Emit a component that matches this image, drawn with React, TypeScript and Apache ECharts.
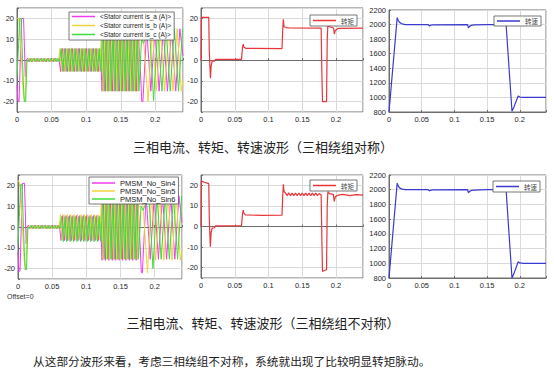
import React, { useEffect, useRef } from "react";
import * as echarts from "echarts";

// ---------- three-phase currents: extremum times (ms) ----------
const tA = [
  0, 1.5, 3, 6.5, 9.5, 12, 13.5,
  15.5, 18, 20.5, 23, 25.5, 28, 30.5, 33, 35.5, 38, 40.5, 43, 45.5, 48, 50.5, 53, 55.5, 58, 60.5,
  63, 65.5, 68, 70.5, 73, 75.5, 78, 80.5, 83, 85.5, 88, 90.5, 93, 95.5, 98, 100.5, 103, 105.5, 108, 110.5, 113, 115.5, 118, 120.5,
  123, 125.5, 128, 130.5, 133, 135.5, 138, 140.5, 143, 145.5, 148, 150.5, 153, 155.5, 158, 160.5, 163, 165.5, 168, 170.5, 173, 175.5,
  180.5, 182, 187.5, 193.5, 199.5, 205.5, 211.5, 217.5, 223.5, 229.5, 235.5, 240,
];
const tB = [
  0, 2.5, 6, 9, 11.5, 13.5,
  17.2, 19.7, 22.2, 24.7, 27.2, 29.7, 32.2, 34.7, 37.2, 39.7, 42.2, 44.7, 47.2, 49.7, 52.2, 54.7, 57.2, 59.7,
  62.2, 64.7, 67.2, 69.7, 72.2, 74.7, 77.2, 79.7, 82.2, 84.7, 87.2, 89.7, 92.2, 94.7, 97.2, 99.7, 102.2, 104.7, 107.2, 109.7, 112.2, 114.7, 117.2, 119.7,
  122.2, 124.7, 127.2, 129.7, 132.2, 134.7, 137.2, 139.7, 142.2, 144.7, 147.2, 149.7, 152.2, 154.7, 157.2, 159.7, 162.2, 164.7, 167.2, 169.7, 172.2, 174.7, 177.2,
  183, 189.5, 195.5, 201.5, 207.5, 213.5, 219.5, 225.5, 231.5, 237.5, 240,
];
const tC = [
  0, 2, 4, 6, 9, 10.5, 12.5, 14.5,
  16.3, 18.8, 21.3, 23.8, 26.3, 28.8, 31.3, 33.8, 36.3, 38.8, 41.3, 43.8, 46.3, 48.8, 51.3, 53.8, 56.3, 58.8, 61.3,
  63.8, 66.3, 68.8, 71.3, 73.8, 76.3, 78.8, 81.3, 83.8, 86.3, 88.8, 91.3, 93.8, 96.3, 98.8, 101.3, 103.8, 106.3, 108.8, 111.3, 113.8, 116.3, 118.8, 121.3,
  123.8, 126.3, 128.8, 131.3, 133.8, 136.3, 138.8, 141.3, 143.8, 146.3, 148.8, 151.3, 153.8, 156.3, 158.8, 161.3, 163.8, 166.3, 168.8, 171.3, 173.8, 176.3,
  180, 183, 191.5, 197.5, 203.5, 209.5, 215.5, 221.5, 227.5, 233.5, 239.5, 240,
];

// symmetric winding currents (A)
const iaSym = [
  -12, -20, -20, 20, 20, -8, 0,
  0.8, -0.8, 0.8, -0.8, 0.8, -0.8, 0.8, -0.8, 0.8, -0.8, 0.8, -0.8, 0.8, -0.8, 0.8, -0.8, 0.8, -0.8, 0.8,
  -5.5, 5.5, -5.5, 5.5, -5.5, 5.5, -5.5, 5.5, -5.5, 5.5, -5.5, 5.5, -5.5, 5.5, -5.5, 5.5, -5.5, 5.5, -5.5, 5.5, -5.5, 5.5, -5.5, 5.5,
  -15, 15, -15, 15, -15, 15, -15, 15, -15, 15, -15, 15, -15, 15, -15, 15, -15, 15, -15, 15, -15, 15,
  -20, -20, 15, -15, 15, -15, 15, -15, 15, -15, 15, 2,
];
const ibSym = [
  20, 20, 3, -16, -20, -1,
  0.8, -0.8, 0.8, -0.8, 0.8, -0.8, 0.8, -0.8, 0.8, -0.8, 0.8, -0.8, 0.8, -0.8, 0.8, -0.8, 0.8, -0.8,
  5.5, -5.5, 5.5, -5.5, 5.5, -5.5, 5.5, -5.5, 5.5, -5.5, 5.5, -5.5, 5.5, -5.5, 5.5, -5.5, 5.5, -5.5, 5.5, -5.5, 5.5, -5.5, 5.5, -5.5,
  15, -15, 15, -15, 15, -15, 15, -15, 15, -15, 15, -15, 15, -15, 15, -15, 15, -15, 15, -15, 15, -15, 15,
  10, -20, 15, -15, 15, -15, 15, -15, 15, -15, -10,
];
const icSym = [
  -8, 5, 20, 20, -10, -20, -20, 0,
  -0.8, 0.8, -0.8, 0.8, -0.8, 0.8, -0.8, 0.8, -0.8, 0.8, -0.8, 0.8, -0.8, 0.8, -0.8, 0.8, -0.8, 0.8, -0.8,
  5.5, -5.5, 5.5, -5.5, 5.5, -5.5, 5.5, -5.5, 5.5, -5.5, 5.5, -5.5, 5.5, -5.5, 5.5, -5.5, 5.5, -5.5, 5.5, -5.5, 5.5, -5.5, 5.5, -5.5,
  15, -15, 15, -15, 15, -15, 15, -15, 15, -15, 15, -15, 15, -15, 15, -15, 15, -15, 15, -15, 15, -15,
  10, 8, 15, -19.5, 15, -15, 15, -15, 15, -15, 15, 14.8,
];

// asymmetric winding currents (A)
const iaAsym = [
  -12, -21.5, -21, 21, 21, -8, 0,
  0.9, -0.7, 0.9, -0.7, 0.9, -0.7, 0.9, -0.7, 0.9, -0.7, 0.9, -0.7, 0.9, -0.7, 0.9, -0.7, 0.9, -0.7, 0.9,
  -6.5, 5.5, -6.5, 5.5, -6.5, 5.5, -6.5, 5.5, -6.5, 5.5, -6.5, 5.5, -6.5, 5.5, -6.5, 5.5, -6.5, 5.5, -6.5, 5.5, -6.5, 5.5, -6.5, 5.5,
  -16, 14, -16, 14, -16, 14, -16, 14, -16, 14, -16, 14, -16, 14, -16, 14, -16, 14, -16, 14, -16, 14,
  -22, -22, 15, -15.5, 15, -15.5, 15, -15.5, 15, -15.5, 15, 2,
];
const ibAsym = [
  22.5, 21, 3, -16, -20.5, -1,
  0.7, -0.9, 0.7, -0.9, 0.7, -0.9, 0.7, -0.9, 0.7, -0.9, 0.7, -0.9, 0.7, -0.9, 0.7, -0.9, 0.7, -0.9,
  6, -6, 6, -6, 6, -6, 6, -6, 6, -6, 6, -6, 6, -6, 6, -6, 6, -6, 6, -6, 6, -6, 6, -6,
  15, -15.5, 15, -15.5, 15, -15.5, 15, -15.5, 15, -15.5, 15, -15.5, 15, -15.5, 15, -15.5, 15, -15.5, 15, -15.5, 15, -15.5, 15,
  10, -22, 15.5, -16, 15.5, -16, 15.5, -16, 15.5, -16, -11,
];
const icAsym = [
  -8, 5, 20.5, 20.5, -10, -20.5, -20.5, 0,
  -0.8, 0.8, -0.8, 0.8, -0.8, 0.8, -0.8, 0.8, -0.8, 0.8, -0.8, 0.8, -0.8, 0.8, -0.8, 0.8, -0.8, 0.8, -0.8,
  5, -7, 5, -7, 5, -7, 5, -7, 5, -7, 5, -7, 5, -7, 5, -7, 5, -7, 5, -7, 5, -7, 5, -7,
  13.5, -15.5, 13.5, -15.5, 13.5, -15.5, 13.5, -15.5, 13.5, -15.5, 13.5, -15.5, 13.5, -15.5, 13.5, -15.5, 13.5, -15.5, 13.5, -15.5, 13.5, -15.5,
  10, 8, 15, -20, 15, -15.5, 15, -15.5, 15, -15.5, 15, 14.8,
];

// ---------- torque (ms, N·m) ----------
const tqSymT = [0, 0.5, 11.5, 12.2, 14, 15, 16.5, 20, 21.5, 60, 61.5, 62.5, 63.5, 66, 120, 121, 122, 123, 126, 130, 178, 179, 180, 186, 187, 188, 190, 196.5, 197.5, 199, 203, 240];
const tqSym = [0, 20.5, 20.5, 5, -8.8, -3, -0.5, -0.5, 0.3, 0.3, 6, 7.6, 6.2, 5.6, 5.5, 14, 19.6, 16, 15.6, 15.4, 15.3, -5, -20, -20, 10, 17, 16, 15.4, 12.5, 14.2, 15.2, 15.3];
const tqAsymT = [0, 0.5, 5, 11.5, 12.2, 13.8, 15, 16.5, 20, 21.5, 60, 61.5, 62.5, 63.5, 66, 90, 120, 121, 122, 123, 125, 127.5, 130, 132.5, 135, 137.5, 140, 142.5, 145, 147.5, 150, 152.5, 155, 157.5, 160, 162.5, 165, 167.5, 170, 172.5, 175, 178, 179, 180, 182, 186, 187, 188, 190, 196, 197.5, 199, 203, 210, 220, 230, 240];
const tqAsym = [0, 22, 21.5, 20.8, 5, -9.8, -3, -0.8, -0.6, 0.3, 0.4, 6, 8, 6.5, 5.6, 5.4, 5.5, 14, 20.5, 17, 16.4, 15, 16.3, 14.9, 16.2, 15, 16.2, 15, 16.2, 15, 16.2, 15, 16.2, 15, 16.2, 15, 16.2, 15, 16.2, 15, 16, 15.3, -5, -21.8, -21.5, -21, 10, 17, 16, 15.6, 12.2, 14.5, 15.2, 15.6, 15, 15.5, 15.2];

// ---------- speed (ms, rpm) ----------
const spT = [0, 12.5, 14, 16, 20, 25, 60, 61.5, 63, 67, 120, 121.5, 123, 126, 130, 150, 179, 188, 191, 197.5, 200, 205, 240];
const spSym = [800, 2095, 2060, 2030, 2010, 2000, 2000, 1980, 1988, 1997, 2000, 1955, 1975, 1990, 1995, 2000, 2000, 810, 870, 1020, 1005, 1000, 1000];
const spAsym = [800, 2090, 2055, 2025, 2008, 2000, 2000, 1985, 1990, 1997, 2000, 1958, 1978, 1990, 1995, 2000, 2000, 800, 860, 1020, 1005, 1000, 1000];

// ---------- labels ----------
const symNames = ["<Stator current is_a (A)>", "<Stator current is_b (A)>", "<Stator current is_c (A)>"];
const asymNames = ["PMSM_No_Sin4", "PMSM_No_Sin5", "PMSM_No_Sin6"];
const torqueName = "转矩";
const speedName = "转速";
const caption1 = "三相电流、转矩、转速波形（三相绕组对称）";
const caption2 = "三相电流、转矩、转速波形（三相绕组不对称）";
const sentence = "从这部分波形来看，考虑三相绕组不对称，系统就出现了比较明显转矩脉动。";
const offsetLabel = "Offset=0";

const phaseColors = ["#f03cf0", "#f2d23a", "#3fdc3f"];
const torqueColor = "#e8353a";
const speedColor = "#3a3acf";

const pairs = (t: number[], v: number[]) => {
  const n = Math.min(t.length, v.length);
  const out: number[][] = [];
  for (let i = 0; i < n; i++) out.push([t[i] / 1000, v[i]]);
  return out;
};

const LATIN = "'Liberation Sans', Arial, sans-serif";
const CJK = "'Noto Sans CJK SC', sans-serif";

const labelStyle = { fontSize: 7.5, color: "#262626", fontFamily: LATIN };

const xFmt = (v: number) => {
  if (Math.abs(v * 20 - Math.round(v * 20)) > 1e-6) return "";
  return v === 0 ? "0" : String(Number(v.toFixed(2)));
};
const yFmt = (v: number) => (Math.abs(v) === 25 ? "" : String(v));
const plainFmt = (v: number) => String(v);

const makeX = (gridIndex: number) => ({
  type: "value",
  gridIndex,
  min: 0,
  max: 0.24,
  interval: 0.05,
  axisLine: { show: true, lineStyle: { color: "#6e6e6e", width: 1 } },
  axisTick: { show: true, inside: true, length: 2, lineStyle: { color: "#6e6e6e" } },
  axisLabel: { ...labelStyle, margin: 3, formatter: xFmt },
  splitLine: { show: true, lineStyle: { color: "#dadada", width: 1 } },
});
const makeYCur = (gridIndex: number) => ({
  type: "value",
  gridIndex,
  min: -25,
  max: 25,
  splitNumber: 5,
  axisLine: { show: true, lineStyle: { color: "#6e6e6e", width: 1 } },
  axisTick: { show: true, inside: true, length: 2, lineStyle: { color: "#6e6e6e" } },
  axisLabel: { ...labelStyle, margin: 3, formatter: yFmt },
  splitLine: { show: true, lineStyle: { color: "#dadada", width: 1 } },
});
const makeYSpeed = (gridIndex: number) => ({
  type: "value",
  gridIndex,
  min: 800,
  max: 2200,
  interval: 200,
  axisLine: { show: true, lineStyle: { color: "#6e6e6e", width: 1 } },
  axisTick: { show: true, inside: true, length: 2, lineStyle: { color: "#6e6e6e" } },
  axisLabel: { ...labelStyle, margin: 3, formatter: plainFmt },
  splitLine: { show: true, lineStyle: { color: "#dadada", width: 1 } },
});

const gridBase = { show: true, borderColor: "#707070", borderWidth: 1, backgroundColor: "#fff", containLabel: false };

const lineSeries = (name: string, idx: number, data: number[][], color: string, width: number) => ({
  type: "line",
  name,
  xAxisIndex: idx,
  yAxisIndex: idx,
  data,
  color,
  showSymbol: false,
  symbol: "none",
  silent: true,
  lineStyle: { color, width },
});

const legendBase = {
  orient: "vertical",
  icon: "rect",
  itemWidth: 23,
  itemHeight: 1.5,
  itemGap: 0,
  backgroundColor: "#fff",
  borderColor: "#555",
  borderWidth: 0.8,
  borderRadius: 0,
  selectedMode: false,
};

export default function App() {
  const ref = useRef<HTMLDivElement>(null);
  useEffect(() => {
    if (!ref.current) return;
    const chart = echarts.init(ref.current, null, { renderer: "svg" });
    const option: any = {
      animation: false,
      backgroundColor: "#fff",
      grid: [
        { ...gridBase, left: 17, top: 8, width: 166, height: 104 },
        { ...gridBase, left: 201, top: 8, width: 162, height: 104 },
        { ...gridBase, left: 389, top: 10, width: 157, height: 102 },
        { ...gridBase, left: 18, top: 175, width: 164, height: 104 },
        { ...gridBase, left: 201, top: 175, width: 162, height: 103 },
        { ...gridBase, left: 389, top: 175, width: 157, height: 103 },
      ],
      xAxis: [0, 1, 2, 3, 4, 5].map(makeX),
      yAxis: [makeYCur(0), makeYCur(1), makeYSpeed(2), makeYCur(3), makeYCur(4), makeYSpeed(5)],
      legend: [
        {
          ...legendBase,
          data: symNames,
          left: 69,
          top: 12,
          padding: [0, 3, 1, 3],
          textStyle: { fontSize: 6.5, lineHeight: 9, fontFamily: LATIN, color: "#222" },
        },
        {
          ...legendBase,
          data: [torqueName],
          left: 310,
          top: 15,
          padding: [1, 3, 1, 3],
          textStyle: { fontSize: 6.5, lineHeight: 9, fontFamily: CJK, color: "#444" },
        },
        {
          ...legendBase,
          data: [speedName],
          left: 494,
          top: 16,
          padding: [1, 3, 1, 3],
          textStyle: { fontSize: 6.5, lineHeight: 8, fontFamily: CJK, color: "#444" },
        },
        {
          ...legendBase,
          data: asymNames,
          left: 89,
          top: 177,
          padding: [2, 3, 1, 3],
          textStyle: { fontSize: 7.5, lineHeight: 8, fontFamily: LATIN, color: "#222" },
        },
        {
          ...legendBase,
          data: [torqueName],
          left: 310,
          top: 180,
          padding: [1, 3, 1, 3],
          textStyle: { fontSize: 6.5, lineHeight: 9, fontFamily: CJK, color: "#444" },
        },
        {
          ...legendBase,
          data: [speedName],
          left: 493,
          top: 181,
          padding: [1, 3, 1, 3],
          textStyle: { fontSize: 6.5, lineHeight: 9, fontFamily: CJK, color: "#444" },
        },
      ],
      series: [
        lineSeries(symNames[0], 0, pairs(tA, iaSym), phaseColors[0], 1),
        lineSeries(symNames[1], 0, pairs(tB, ibSym), phaseColors[1], 1),
        lineSeries(symNames[2], 0, pairs(tC, icSym), phaseColors[2], 1),
        lineSeries(torqueName, 1, pairs(tqSymT, tqSym), torqueColor, 1.2),
        lineSeries(speedName, 2, pairs(spT, spSym), speedColor, 1.2),
        lineSeries(asymNames[0], 3, pairs(tA, iaAsym), phaseColors[0], 1),
        lineSeries(asymNames[1], 3, pairs(tB, ibAsym), phaseColors[1], 1),
        lineSeries(asymNames[2], 3, pairs(tC, icAsym), phaseColors[2], 1),
        lineSeries(torqueName, 4, pairs(tqAsymT, tqAsym), torqueColor, 1.2),
        lineSeries(speedName, 5, pairs(spT, spAsym), speedColor, 1.2),
      ],
      graphic: [
        {
          type: "text",
          x: 263,
          y: 146,
          style: { text: caption1, fontSize: 13, fontFamily: CJK, fill: "#222", align: "center", verticalAlign: "middle" },
        },
        {
          type: "text",
          x: 263,
          y: 322,
          style: { text: caption2, fontSize: 13, fontFamily: CJK, fill: "#222", align: "center", verticalAlign: "middle" },
        },
        {
          type: "text",
          x: 33,
          y: 360,
          style: { text: sentence, fontSize: 11.7, fontFamily: CJK, fill: "#222", align: "left", verticalAlign: "middle" },
        },
        {
          type: "text",
          x: 7,
          y: 296,
          style: { text: offsetLabel, fontSize: 7, fontFamily: LATIN, fill: "#333", align: "left", verticalAlign: "middle" },
        },
      ],
    };
    chart.setOption(option);
    return () => chart.dispose();
  }, []);
  return (
    <div
      ref={ref}
      style={{ position: "absolute", left: 0, top: 0, width: 554, height: 378, background: "#fff" }}
    />
  );
}
